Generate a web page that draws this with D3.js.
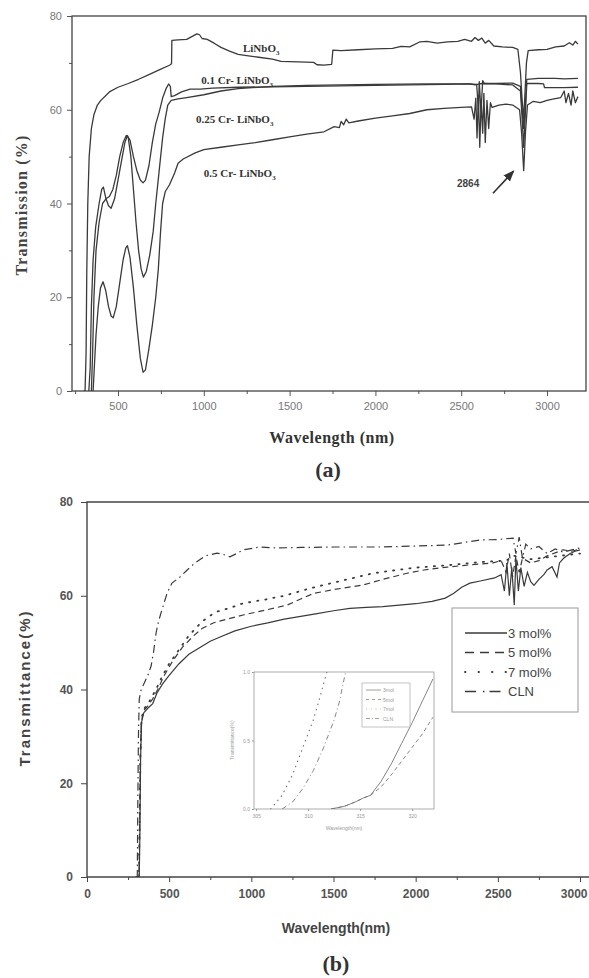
<!DOCTYPE html>
<html>
<head>
<meta charset="utf-8">
<script src="https://cdn.jsdelivr.net/npm/d3@7"></script>
<style>
  body { margin: 0; background: #fff; }
  svg { display: block; }
</style>
</head>
<body>
<svg id="fig" width="589" height="978"></svg>
<script>
// ---- panel (a): [wavelength nm, transmission %] ----
const aLiNbO3 = [[300,0],[308,0],[314,8],[318,25],[324,40],[332,50],[345,56],[360,59],[380,61],[400,62],[450,63.8],[500,64.8],[560,65.6],[620,66.5],[680,67.5],[740,68.5],[800,69.5],[812,69.8],[814,74.8],[850,74.9],[900,75],[930,75.6],[960,76.2],[975,76],[990,75.2],[1020,75],[1060,74.2],[1100,73.3],[1150,72.5],[1200,71.8],[1260,71.5],[1320,71.2],[1400,70.8],[1450,70.3],[1550,70.2],[1640,70.1],[1660,69.6],[1700,69.5],[1745,69.7],[1752,72.7],[1800,72.6],[1900,72.8],[2000,73],[2100,73.1],[2150,73.5],[2200,73.4],[2260,74.5],[2300,74.6],[2360,74.2],[2420,74.5],[2480,74.6],[2520,75],[2560,74.6],[2580,75.4],[2600,74.8],[2620,75.3],[2640,74.2],[2660,74.8],[2690,73.6],[2740,73.4],[2800,73.3],[2830,72.9],[2845,68],[2855,62],[2864,58],[2872,64],[2880,70],[2890,72.6],[2950,72.8],[3000,72.9],[3050,73.4],[3100,73.6],[3130,74.3],[3150,73.8],[3165,74.6],[3180,74]];
const aCr01 = [[330,0],[338,5],[345,18],[355,28],[370,35],[390,40],[405,43],[415,43.5],[430,41],[445,39.5],[460,39],[480,41],[500,45],[520,49],[540,53],[555,54.5],[570,53.5],[590,50],[610,47],[630,45],[646,44.4],[660,45],[680,48],[700,53],[720,57],[740,59.5],[760,62.5],[780,64.5],[795,65.5],[805,65],[810,62.8],[830,63],[870,63.8],[920,64.4],[980,64.4],[1050,64.6],[1200,64.8],[1400,64.9],[1600,65],[1800,65.1],[2000,65.2],[2200,65.3],[2400,65.4],[2550,65.5],[2590,65.4],[2600,60],[2605,66],[2615,59.5],[2625,66.2],[2635,65.6],[2700,65.6],[2800,65.7],[2845,65],[2855,60],[2864,56],[2872,60],[2882,66.5],[2950,66.7],[3050,66.7],[3100,66.6],[3180,66.7]];
const aCr025 = [[345,0],[352,8],[360,20],[372,30],[390,36],[410,40],[430,41],[450,41.5],[470,43],[490,46],[510,50],[530,53],[548,54.5],[560,54],[575,50],[590,43],[605,36],[620,30],[635,26],[648,24.3],[665,25.5],[685,29],[705,34],[720,40],[740,47],[760,54],[775,58],[790,61],[810,62],[850,62.3],[900,62.6],[1000,63.2],[1100,64],[1200,64.5],[1400,65],[1600,65.2],[1800,65.3],[2000,65.4],[2300,65.5],[2550,65.5],[2580,65.3],[2620,65.6],[2700,65.5],[2800,65.3],[2845,64],[2855,58],[2864,52],[2872,58],[2882,65.6],[2950,65.6],[2980,65.5],[2985,64.7],[3100,64.7],[3180,64.8]];
const aCr05 = [[355,0],[362,5],[372,12],[385,18],[398,22],[413,23.3],[428,21.5],[445,18],[460,16],[472,15.6],[490,18],[510,23],[530,28],[545,30.5],[555,31],[570,28.5],[590,22],[610,14],[630,7],[646,4],[660,4.5],[680,9],[700,14],[720,20],[735,26],[748,34],[760,40],[775,42.5],[800,44],[830,46.5],[850,48.6],[880,49.5],[950,50.8],[1000,51.5],[1100,52],[1200,52.5],[1300,53],[1400,53.6],[1500,54.2],[1600,54.8],[1700,55.3],[1760,56.4],[1790,56.2],[1800,57.5],[1815,56.8],[1830,58],[1845,57.2],[1900,57.6],[2000,58.2],[2100,58.7],[2200,59.2],[2300,60],[2400,60.3],[2500,60.5],[2560,60.6],[2575,58],[2585,62.5],[2592,54],[2600,63],[2608,52],[2616,62],[2625,55],[2632,63.5],[2640,53],[2650,62],[2660,56],[2670,61.5],[2680,60.5],[2720,61],[2760,61.2],[2800,61],[2840,60],[2852,55],[2864,47],[2874,55],[2886,61],[2920,61.8],[2960,61.5],[3000,62],[3040,62.3],[3080,62.6],[3100,64],[3110,61.5],[3125,63.5],[3140,61],[3150,64],[3165,61.5],[3180,62.8]];
const aSeries = [aLiNbO3, aCr01, aCr025, aCr05];
const aXTicks = [500, 1000, 1500, 2000, 2500, 3000];
const aXMinor = [250, 750, 1250, 1750, 2250, 2750];
const aYTicks = [0, 20, 40, 60, 80];
const aYMinor = [10, 30, 50, 70];

// ---- panel (b): [wavelength nm, transmittance %] ----
const b3mol = [[300,0],[318,0],[322,10],[326,25],[332,33],[345,35],[370,36],[400,37],[425,39.2],[460,41.2],[500,43],[560,45.5],[620,47.5],[690,49],[750,50.3],[810,51.2],[900,52.5],[1000,53.5],[1100,54.2],[1200,55],[1300,55.6],[1400,56.2],[1500,56.8],[1600,57.3],[1700,57.5],[1800,57.7],[1900,58],[2000,58.3],[2100,58.8],[2180,59.5],[2230,60.5],[2280,61.8],[2330,62.7],[2400,63.2],[2480,63.8],[2520,64.5],[2540,61],[2555,67],[2570,60],[2585,66],[2600,58],[2610,68],[2625,61],[2640,66],[2660,62],[2680,65],[2700,63],[2720,62.2],[2750,63.5],[2780,64.5],[2800,65.5],[2830,66.2],[2860,64],[2875,67],[2900,68],[2940,69],[2970,69.5],[3000,69.8]];
const b5mol = [[300,0],[316,0],[320,10],[324,25],[330,33],[345,35.5],[370,36.5],[400,38],[430,40],[470,43],[520,46],[580,49],[650,51.5],[700,53],[768,54.2],[850,55],[950,55.9],[1095,57],[1217,58],[1300,59.3],[1378,60.5],[1500,61.3],[1680,62.3],[1800,63.5],[1948,64.8],[2050,65.5],[2191,66.1],[2300,66.5],[2471,67],[2520,67.5],[2550,65],[2570,69],[2590,64],[2610,68.5],[2630,65],[2650,68],[2700,67],[2750,67.5],[2800,68.5],[2897,69.8],[2950,69.5],[3000,70]];
const b7mol = [[300,0],[316,0],[320,10],[325,26],[332,34],[350,36],[380,37.5],[420,40],[460,43],[500,45.5],[560,48.5],[620,51.5],[700,54.5],[780,56.5],[870,57.4],[950,58.4],[1071,59.1],[1200,60],[1350,61.5],[1500,62.8],[1741,64.8],[1887,65.5],[2000,66],[2191,66.5],[2400,67.2],[2550,67.5],[2600,68.5],[2700,67.8],[2800,68.2],[2900,68.6],[3000,69]];
const bCLN = [[300,0],[306,0],[309,15],[313,30],[318,38],[330,40],[350,41.5],[370,43],[390,45],[405,48],[420,52],[435,54.5],[456,57],[487,60.5],[517,62.7],[566,64],[610,65.5],[657,67],[720,68.5],[791,69.1],[830,68.8],[870,68.3],[910,69],[950,69.8],[1053,70.4],[1156,70.2],[1300,70.3],[1500,70.4],[1783,70.4],[2000,70.6],[2191,70.8],[2392,71.9],[2500,72],[2593,72.3],[2610,69],[2630,72.5],[2650,68],[2670,71],[2700,70],[2750,70.5],[2800,69],[2850,70],[2897,69.3],[2950,69.8],[3000,70.2]];
const bNames = ["3 mol%", "5 mol%", "7 mol%", "CLN"];
const bSeries = [b3mol, b5mol, b7mol, bCLN];
const bXTicks = [0, 500, 1000, 1500, 2000, 2500, 3000];
const bXMinor = [250, 750, 1250, 1750, 2250, 2750];
const bYTicks = [0, 20, 40, 60, 80];

// ---- inset of (b) ----
const i3mol = [[312.2,0],[313.5,0.02],[314.5,0.05],[315.3,0.08],[316,0.1],[317,0.2],[318,0.33],[319,0.48],[320,0.63],[321,0.79],[322,0.95]];
const i5mol = [[312.2,0],[313.5,0.02],[314.5,0.05],[315.3,0.08],[316,0.1],[317,0.16],[318,0.25],[319,0.35],[320,0.45],[321,0.55],[322,0.67]];
const i7mol = [[306.4,0],[307.5,0.1],[308.5,0.25],[309.5,0.45],[310.5,0.65],[311,0.78],[311.8,1]];
const iCLN = [[307.5,0],[308.5,0.05],[309.5,0.15],[310.5,0.28],[311.5,0.45],[312.5,0.65],[313,0.78],[313.6,1]];
const iNames = ["3mol", "5mol", "7mol", "CLN"];
const iSeries = [i3mol, i5mol, i7mol, iCLN];
const iXTicks = [305, 310, 315, 320];
const iYTicks = [0, 0.5, 1];

const svg = d3.select('#fig');
const ink = '#3a3a3a';
const sans = 'Liberation Sans, Arial, sans-serif';
const serif = 'Liberation Serif, Times New Roman, serif';
const dashes = [null, '6,4', '1.2,7', '8,4,1.5,4'];

// ================= panel (a) =================
const ax = d3.scaleLinear().domain([232, 3227]).range([72, 586]);
const ay = d3.scaleLinear().domain([0, 80]).range([391, 16]);

svg.append('clipPath').attr('id', 'clipA')
  .append('rect').attr('x', 72).attr('y', 16).attr('width', 514).attr('height', 375);

const gA = svg.append('g');

gA.append('g').attr('transform', 'translate(0,391)')
  .call(d3.axisBottom(ax).tickValues(aXTicks).tickSize(5).tickPadding(6).tickFormat(d3.format('d')));
gA.append('g').attr('transform', 'translate(0,391)')
  .call(d3.axisBottom(ax).tickValues(aXMinor).tickSize(3).tickFormat(''));
gA.append('g').attr('transform', 'translate(72,0)')
  .call(d3.axisLeft(ay).tickValues(aYTicks).tickSize(5).tickPadding(5));
gA.append('g').attr('transform', 'translate(72,0)')
  .call(d3.axisLeft(ay).tickValues(aYMinor).tickSize(3).tickFormat(''));

gA.selectAll('.domain').remove();
gA.selectAll('.tick line').attr('stroke', '#555');
gA.selectAll('.tick text')
  .attr('font-family', sans)
  .attr('font-size', 11).attr('fill', '#777');

gA.append('rect')
  .attr('x', 72).attr('y', 16).attr('width', 514).attr('height', 375)
  .attr('fill', 'none').attr('stroke', '#444').attr('stroke-width', 1.3);

const lineA = d3.line().x(d => ax(d[0])).y(d => ay(d[1]));
gA.append('g').attr('clip-path', 'url(#clipA)')
  .selectAll('path').data(aSeries).join('path')
  .attr('d', lineA)
  .attr('fill', 'none').attr('stroke', ink).attr('stroke-width', 1.3)
  .attr('stroke-linejoin', 'round');

// curve labels
const aLabels = [
  {pre: 'LiNbO', x: 1228, y: 72.3},
  {pre: '0.1 Cr- LiNbO', x: 985, y: 65.4},
  {pre: '0.25 Cr- LiNbO', x: 955, y: 57.1},
  {pre: '0.5 Cr- LiNbO', x: 1000, y: 45.7}
];
aLabels.forEach(l => {
  const t = gA.append('text')
    .attr('x', ax(l.x)).attr('y', ay(l.y))
    .attr('font-family', serif).attr('font-weight', 'bold')
    .attr('font-size', 11).attr('fill', '#333')
    .text(l.pre);
  t.append('tspan').attr('dy', 3).attr('font-size', 7).text('3');
});

gA.append('text')
  .attr('x', ax(2540)).attr('y', ay(43.5))
  .attr('text-anchor', 'middle')
  .attr('font-family', sans)
  .attr('font-weight', 'bold').attr('font-size', 10).attr('fill', '#444')
  .text('2864');

svg.append('defs').append('marker')
  .attr('id', 'arr').attr('viewBox', '0 0 10 10')
  .attr('refX', 9).attr('refY', 5)
  .attr('markerWidth', 7).attr('markerHeight', 7)
  .attr('orient', 'auto')
  .append('path').attr('d', 'M0,1 L10,5 L0,9 Z').attr('fill', '#333');

gA.append('line')
  .attr('x1', ax(2685)).attr('y1', ay(42.2))
  .attr('x2', ax(2805)).attr('y2', ay(46.9))
  .attr('stroke', '#333').attr('stroke-width', 1.6)
  .attr('marker-end', 'url(#arr)');

gA.append('text')
  .attr('transform', 'translate(27,205) rotate(-90)')
  .attr('text-anchor', 'middle')
  .attr('font-family', serif).attr('font-weight', 'bold')
  .attr('font-size', 16).attr('letter-spacing', 1.2).attr('fill', '#444')
  .text('Transmission (%)');

gA.append('text')
  .attr('x', 332).attr('y', 443)
  .attr('text-anchor', 'middle')
  .attr('font-family', serif).attr('font-weight', 'bold')
  .attr('font-size', 16).attr('letter-spacing', 0.5).attr('fill', '#333')
  .text('Wavelength (nm)');

gA.append('text')
  .attr('x', 328).attr('y', 477)
  .attr('text-anchor', 'middle')
  .attr('font-family', serif).attr('font-weight', 'bold')
  .attr('font-size', 22).attr('fill', '#333')
  .text('(a)');

// ================= panel (b) =================
const bx = d3.scaleLinear().domain([0, 3000]).range([87, 580]);
const by = d3.scaleLinear().domain([0, 80]).range([877, 502]);

svg.append('clipPath').attr('id', 'clipB')
  .append('rect').attr('x', 87).attr('y', 502).attr('width', 510).attr('height', 375);

const gB = svg.append('g');

gB.append('g').attr('transform', 'translate(0,877)')
  .call(d3.axisBottom(bx).tickValues(bXTicks).tickSize(5).tickPadding(7).tickFormat(d3.format('d')));
gB.append('g').attr('transform', 'translate(0,877)')
  .call(d3.axisBottom(bx).tickValues(bXMinor).tickSize(3).tickFormat(''));
gB.append('g').attr('transform', 'translate(87,0)')
  .call(d3.axisLeft(by).tickValues(bYTicks).tickSize(6).tickPadding(8));

gB.selectAll('.domain').remove();
gB.selectAll('.tick line').attr('stroke', '#444');
gB.selectAll('.tick text')
  .attr('font-family', sans).attr('font-weight', 'bold')
  .attr('font-size', 12).attr('fill', '#555');
// last x label sits at the right edge, as in the scan; keep it on the page
gB.selectAll('.tick text').filter(d => d === 3000).attr('text-anchor', 'end').attr('dx', 7);

gB.append('path')
  .attr('d', 'M600,502 H87 V877 H600')
  .attr('fill', 'none').attr('stroke', '#444').attr('stroke-width', 1.4);

const lineB = d3.line().x(d => bx(d[0])).y(d => by(d[1]));
gB.append('g').attr('clip-path', 'url(#clipB)')
  .selectAll('path').data(bSeries).join('path')
  .attr('d', lineB)
  .attr('fill', 'none').attr('stroke', ink)
  .attr('stroke-width', (d, i) => i === 2 ? 1.8 : 1.2)
  .attr('stroke-linecap', (d, i) => i === 2 ? 'round' : 'butt')
  .attr('stroke-dasharray', (d, i) => dashes[i]);

// legend
const leg = gB.append('g');
leg.append('rect')
  .attr('x', 452).attr('y', 608).attr('width', 126).attr('height', 104)
  .attr('fill', '#fff').attr('stroke', '#999').attr('stroke-width', 1);
bNames.forEach((n, i) => {
  const yy = 633 + i * 19.5;
  leg.append('line')
    .attr('x1', 465).attr('x2', 507).attr('y1', yy).attr('y2', yy)
    .attr('stroke', ink)
    .attr('stroke-width', i === 2 ? 1.8 : 1.4)
    .attr('stroke-linecap', i === 2 ? 'round' : 'butt')
    .attr('stroke-dasharray', i === 0 ? null : (i === 1 ? '9,6' : (i === 2 ? '0.5,13' : '11,7,1.5,5')));
  leg.append('text')
    .attr('x', 508).attr('y', yy + 4.5)
    .attr('font-family', sans).attr('font-size', 13).attr('fill', '#444')
    .text(n);
});

gB.append('text')
  .attr('transform', 'translate(30,688) rotate(-90)')
  .attr('text-anchor', 'middle')
  .attr('font-family', sans).attr('font-weight', 'bold')
  .attr('font-size', 15).attr('letter-spacing', 2).attr('fill', '#444')
  .text('Transmittance(%)');

gB.append('text')
  .attr('x', 336).attr('y', 933)
  .attr('text-anchor', 'middle')
  .attr('font-family', sans).attr('font-weight', 'bold')
  .attr('font-size', 14).attr('fill', '#444')
  .text('Wavelength(nm)');

gB.append('text')
  .attr('x', 336).attr('y', 971)
  .attr('text-anchor', 'middle')
  .attr('font-family', serif).attr('font-weight', 'bold')
  .attr('font-size', 22).attr('fill', '#333')
  .text('(b)');

// ---- inset ----
const ix = d3.scaleLinear().domain([304.8, 322.1]).range([254, 434]);
const iy = d3.scaleLinear().domain([0, 1]).range([809, 672]);

svg.append('clipPath').attr('id', 'clipI')
  .append('rect').attr('x', 254).attr('y', 672).attr('width', 180).attr('height', 137);

const gI = svg.append('g');
gI.append('rect')
  .attr('x', 254).attr('y', 672).attr('width', 180).attr('height', 137)
  .attr('fill', '#fff').attr('stroke', '#999').attr('stroke-width', 0.8);

gI.append('g').attr('transform', 'translate(0,809)')
  .call(d3.axisBottom(ix).tickValues(iXTicks).tickSize(2).tickPadding(3).tickFormat(d3.format('d')));
gI.append('g').attr('transform', 'translate(254,0)')
  .call(d3.axisLeft(iy).tickValues(iYTicks).tickSize(2).tickPadding(2).tickFormat(d3.format('.1f')));
gI.selectAll('.domain').remove();
gI.selectAll('.tick line').attr('stroke', '#999');
gI.selectAll('.tick text')
  .attr('font-family', sans).attr('font-size', 5).attr('fill', '#999');

const lineI = d3.line().x(d => ix(d[0])).y(d => iy(d[1]));
gI.append('g').attr('clip-path', 'url(#clipI)')
  .selectAll('path').data(iSeries).join('path')
  .attr('d', lineI)
  .attr('fill', 'none').attr('stroke', '#777')
  .attr('stroke-width', (d, i) => i === 2 ? 1.2 : 0.9)
  .attr('stroke-linecap', (d, i) => i === 2 ? 'round' : 'butt')
  .attr('stroke-dasharray', (d, i) => i === 0 ? null : (i === 1 ? '4,3' : (i === 2 ? '0.5,5' : '5,3,1,3')));

const ileg = gI.append('g');
ileg.append('rect')
  .attr('x', 362).attr('y', 683).attr('width', 48).attr('height', 44)
  .attr('fill', '#fff').attr('stroke', '#aaa').attr('stroke-width', 0.7);
iNames.forEach((n, i) => {
  const yy = 690 + i * 9.5;
  ileg.append('line')
    .attr('x1', 366).attr('x2', 381).attr('y1', yy).attr('y2', yy)
    .attr('stroke', '#888').attr('stroke-width', 0.8)
    .attr('stroke-dasharray', i === 0 ? null : (i === 1 ? '3,3' : (i === 2 ? '0.8,4' : '4,2,1,2')));
  ileg.append('text')
    .attr('x', 383).attr('y', yy + 2)
    .attr('font-family', sans).attr('font-size', 5).attr('fill', '#999')
    .text(n);
});

gI.append('text')
  .attr('transform', 'translate(234,740) rotate(-90)')
  .attr('text-anchor', 'middle')
  .attr('font-family', sans).attr('font-size', 5).attr('fill', '#999')
  .text('Transmittance(%)');
gI.append('text')
  .attr('x', 344).attr('y', 830)
  .attr('text-anchor', 'middle')
  .attr('font-family', sans).attr('font-size', 5).attr('fill', '#999')
  .text('Wavelength(nm)');
</script>
</body>
</html>
